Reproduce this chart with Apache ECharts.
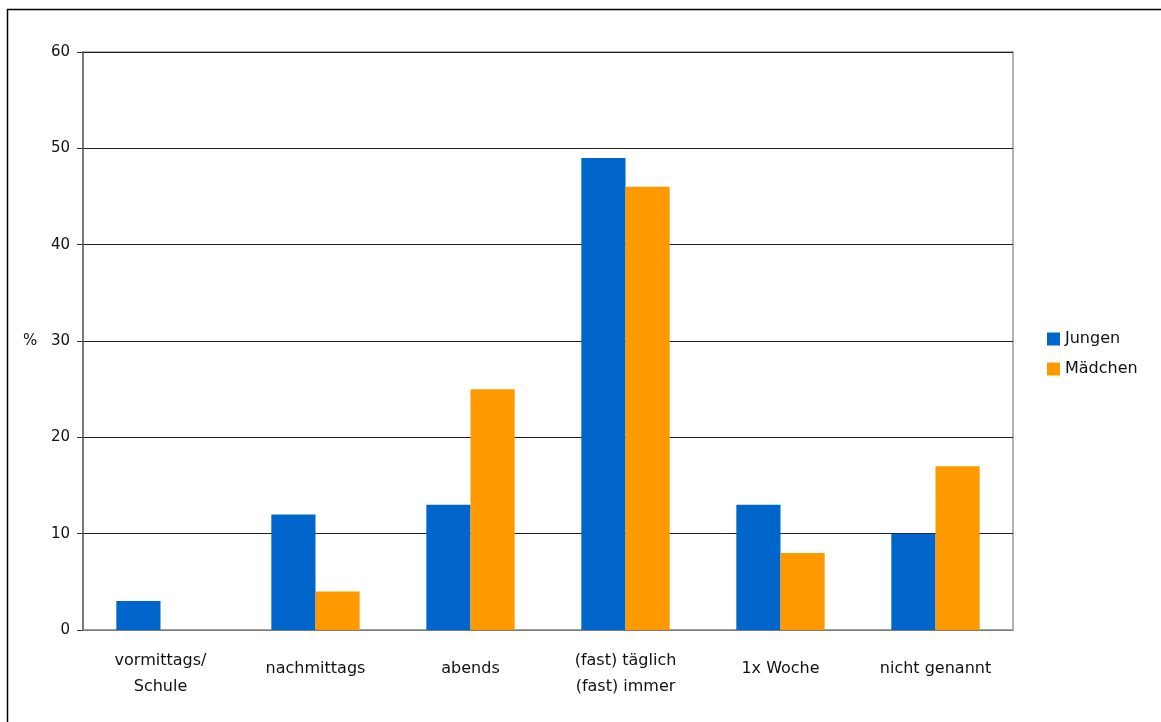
<!DOCTYPE html>
<html><head><meta charset="utf-8">
<script src="https://cdn.jsdelivr.net/npm/echarts@6/dist/echarts.min.js"></script>
<style>html,body{margin:0;padding:0;background:#fff}#c{width:1161px;height:722px}</style>
</head><body><div id="c"></div>
<script>
const categories = ['vormittags/\nSchule', 'nachmittags', 'abends', '(fast) täglich\n(fast) immer', '1x Woche', 'nicht genannt'];
const jungen = [3, 12, 13, 49, 13, 10];
const maedchen = [null, 4, 25, 46, 8, 17];
const yTicks = [0, 10, 20, 30, 40, 50, 60];
const font = 'DejaVu Sans';
const chart = echarts.init(document.getElementById('c'), null, {renderer: 'canvas'});
chart.setOption({
  animation: false,
  textStyle: {fontFamily: font},
  graphic: [{type: 'rect', shape: {x: 7.5, y: 9.5, width: 1200, height: 800}, style: {fill: 'none', stroke: '#000', lineWidth: 1.5}, silent: true},
            {type: 'text', left: 23, top: 334, style: {text: '%', font: '15px ' + font, fill: '#111'}}],
  grid: {left: 83, top: 52, right: 148, bottom: 92, show: true, borderColor: '#9a9a9a', borderWidth: 1.5},
  legend: {orient: 'vertical', left: 1042, top: 326, itemWidth: 13, itemHeight: 13, itemGap: 14, icon: 'rect',
           textStyle: {fontFamily: font, fontSize: 16, color: '#111'}, data: ['Jungen', 'Mädchen']},
  xAxis: {type: 'category', data: categories,
          axisLine: {lineStyle: {color: '#9a9a9a', width: 1.5}}, axisTick: {show: false},
          axisLabel: {fontFamily: font, fontSize: 16, color: '#111', margin: 39, lineHeight: 26, verticalAlign: 'middle', interval: 0,
                      formatter: v => {
                        const parts = v.split('\n');
                        if (parts.length < 2) return v;
                        return '{t|' + parts[0] + '}\n{n|' + parts[1] + '}';
                      },
                      rich: {t: {fontFamily: font, fontSize: 16, color: '#111', lineHeight: 36},
                             n: {fontFamily: font, fontSize: 16, color: '#111', lineHeight: 16}}}},
  yAxis: {type: 'value', min: 0, max: 60, interval: 10,
          axisLine: {show: true, lineStyle: {color: '#666', width: 1.5}},
          axisTick: {show: true, length: 6, lineStyle: {color: '#333'}},
          axisLabel: {fontFamily: font, fontSize: 15, color: '#111', margin: 13,
                      formatter: v => yTicks.includes(v) ? String(v) : ''},
          splitLine: {lineStyle: {color: '#222', width: 1}}},
  series: [
    {name: 'Jungen', type: 'bar', data: jungen, itemStyle: {color: '#0066CC'}, barGap: '0%', barCategoryGap: '43%'},
    {name: 'Mädchen', type: 'bar', data: maedchen, itemStyle: {color: '#FF9900'}}
  ]
});
</script></body></html>
